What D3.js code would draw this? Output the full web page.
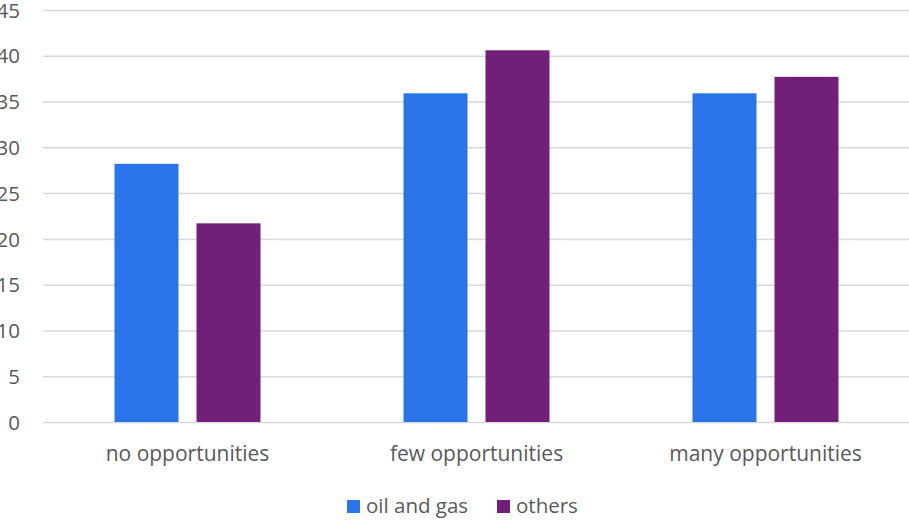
<!DOCTYPE html>
<html><head><meta charset="utf-8">
<script src="https://cdn.jsdelivr.net/npm/d3@7"></script>
<style>body{margin:0;background:#fff}svg{display:block}text{font-family:"Open Sans",sans-serif;fill:#595959}</style>
</head><body>
<script>
const categories = ["no opportunities", "few opportunities", "many opportunities"];
const seriesNames = ["oil and gas", "others"];
const oilAndGas = [28.2, 35.9, 35.9];
const others = [21.7, 40.6, 37.7];
const yTicks = [0, 5, 10, 15, 20, 25, 30, 35, 40, 45];
const colors = ["#2874E8", "#721F7A"];

const W = 909, H = 520;
const svg = d3.select("body").append("svg").attr("width", W).attr("height", H);
const x = d3.scaleBand().domain(categories).range([43, 910]).paddingInner(0).paddingOuter(0);
const xs = d3.scaleBand().domain(seriesNames).range([0, x.bandwidth()]).paddingInner(18/82).paddingOuter(0.872);
const y = d3.scaleLinear().domain([0, 45]).range([422, 10]);

const yAxis = d3.axisLeft(y).tickValues(yTicks).tickSize(-(909 - 43)).tickPadding(23);
const gy = svg.append("g").attr("transform", "translate(43,0)").call(yAxis);
gy.select(".domain").remove();
gy.selectAll(".tick line").attr("stroke", "#d9d9d9").attr("stroke-width", 1.5);
gy.selectAll(".tick text").attr("font-size", 20.5).attr("fill", "#595959").attr("dy", "0.35em");

const data = categories.map((c, i) => ({c, vals: [oilAndGas[i], others[i]]}));
const g = svg.append("g");
data.forEach(d => {
  d.vals.forEach((v, j) => {
    g.append("rect")
      .attr("x", x(d.c) + xs(seriesNames[j]))
      .attr("width", xs.bandwidth())
      .attr("y", y(v))
      .attr("height", y(0) - y(v))
      .attr("fill", colors[j]);
  });
});

const xAxis = d3.axisBottom(x).tickSize(0).tickPadding(0);
const gx = svg.append("g").attr("transform", "translate(0,422)").call(xAxis);
gx.select(".domain").remove();
gx.selectAll(".tick text").attr("font-size", 21).attr("fill", "#595959").attr("y", 39).attr("dy", 0);

const leg = svg.append("g");
const legX = [347, 497];
seriesNames.forEach((s, j) => {
  leg.append("rect").attr("x", legX[j]).attr("y", 500).attr("width", 13).attr("height", 13).attr("fill", colors[j]);
  leg.append("text").attr("x", legX[j] + 19).attr("y", 513).attr("font-size", 20.5).text(s);
});
</script>
</body></html>
